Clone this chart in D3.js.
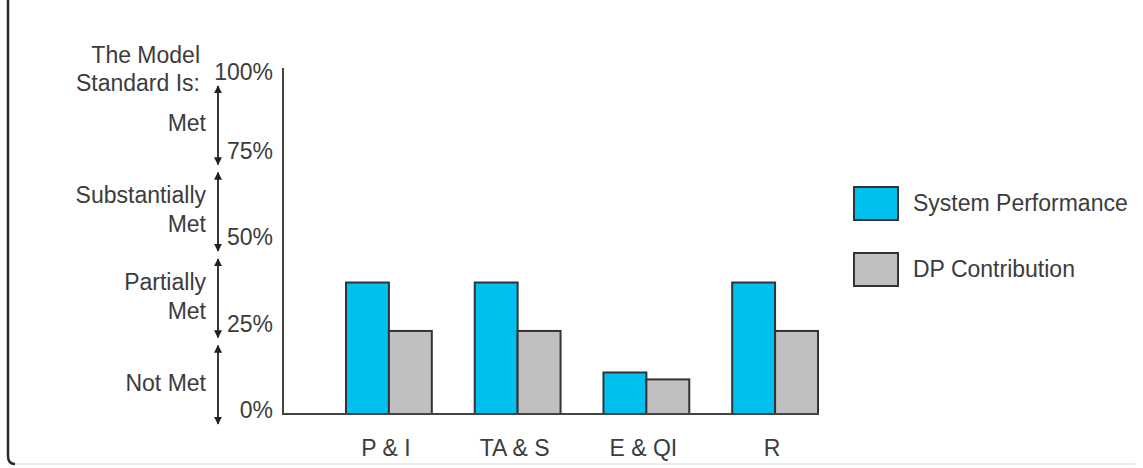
<!DOCTYPE html>
<html>
<head>
<meta charset="utf-8">
<script src="https://cdn.jsdelivr.net/npm/d3@7"></script>
<style>
  html, body { margin: 0; padding: 0; background: #ffffff; }
  svg { display: block; }
  text { font-family: "Liberation Sans", Arial, Helvetica, sans-serif; fill: #3c3c3c; }
</style>
</head>
<body>
<svg id="chart" width="1143" height="468"></svg>
<script>
// Chart data
const categories = ["P & I", "TA & S", "E & QI", "R"];
const seriesNames = ["System Performance", "DP Contribution"];
const systemPerformance = [38, 38, 12, 38];
const dpContribution = [24, 24, 10, 24];
const tickValues = [0, 25, 50, 75, 100];
const tickLabels = ["0%", "25%", "50%", "75%", "100%"];
const standardHeader = ["The Model", "Standard Is:"];
const standardBands = [
  { lo: 75, hi: 100, lines: ["Met"] },
  { lo: 50, hi: 75, lines: ["Substantially", "Met"] },
  { lo: 25, hi: 50, lines: ["Partially", "Met"] },
  { lo: 0, hi: 25, lines: ["Not Met"] }
];
const seriesColors = ["#00c0f0", "#c0c0c0"];

const svg = d3.select("#chart");
const FONT = 23;
const INK = "#333333";

// Outer frame: dark left edge with a rounded corner into a faint bottom edge
svg.append("path")
  .attr("d", "M1135,464 H15")
  .attr("fill", "none").attr("stroke", "#e6e6e6").attr("stroke-width", 1.5);
svg.append("path")
  .attr("d", "M8,0 V456 Q8,464 15,464")
  .attr("fill", "none").attr("stroke", "#2a2a2a").attr("stroke-width", 2.5);

// Scales
const y = d3.scaleLinear().domain([0, 100]).range([414, 68]);
const x = d3.scaleBand().domain(categories).range([346, 818]).paddingInner(1 / 3).paddingOuter(0);
const xs = d3.scaleBand().domain(seriesNames).range([0, x.bandwidth()]).padding(0);
const axisX = 283;

// Bars
const rows = categories.map((c, i) => ({ c, vals: [systemPerformance[i], dpContribution[i]] }));
const groups = svg.append("g").selectAll("g").data(rows).join("g")
  .attr("transform", d => `translate(${x(d.c)},0)`);
groups.selectAll("rect")
  .data(d => d.vals.map((v, j) => ({ v, s: seriesNames[j], j })))
  .join("rect")
  .attr("x", d => xs(d.s))
  .attr("y", d => y(d.v))
  .attr("width", xs.bandwidth())
  .attr("height", d => y(0) - y(d.v))
  .attr("fill", d => seriesColors[d.j])
  .attr("stroke", INK)
  .attr("stroke-width", 2);

// Axis lines
svg.append("line")
  .attr("x1", axisX).attr("x2", axisX).attr("y1", y(100)).attr("y2", y(0))
  .attr("stroke", "#444").attr("stroke-width", 2);
svg.append("line")
  .attr("x1", axisX - 1).attr("x2", x.range()[1] + 1).attr("y1", y(0)).attr("y2", y(0))
  .attr("stroke", "#444").attr("stroke-width", 2);

// Tick labels
svg.append("g").selectAll("text").data(tickValues).join("text")
  .attr("x", 273)
  .attr("y", v => y(v) + (v === 100 ? 12 : 4))
  .attr("text-anchor", "end")
  .attr("font-size", FONT)
  .text((v, i) => tickLabels[i]);

// Category labels
svg.append("g").selectAll("text").data(categories).join("text")
  .attr("x", c => x(c) + x.bandwidth() / 2 - 3)
  .attr("y", 456)
  .attr("text-anchor", "middle")
  .attr("font-size", FONT)
  .text(c => c);

// Header for the standard ranges
svg.append("g").selectAll("text").data(standardHeader).join("text")
  .attr("x", 200)
  .attr("y", (d, i) => 63 + i * 28)
  .attr("text-anchor", "end")
  .attr("font-size", FONT)
  .text(d => d);

// Double-headed arrows and range labels
const defs = svg.append("defs");
["start", "end"].forEach(k => {
  defs.append("marker")
    .attr("id", "arrow-" + k)
    .attr("viewBox", "0 0 10 10")
    .attr("refX", 9).attr("refY", 5)
    .attr("markerWidth", 8).attr("markerHeight", 8)
    .attr("markerUnits", "userSpaceOnUse")
    .attr("orient", k === "start" ? "auto-start-reverse" : "auto")
    .append("path").attr("d", "M0,0 L10,5 L0,10 Z").attr("fill", "#222");
});
const arrowX = 218;
const bandG = svg.append("g").selectAll("g").data(standardBands).join("g");
bandG.append("line")
  .attr("x1", arrowX).attr("x2", arrowX)
  .attr("y1", d => y(d.hi) + 18)
  .attr("y2", d => y(d.lo) + 10)
  .attr("stroke", "#222").attr("stroke-width", 1.8)
  .attr("marker-start", "url(#arrow-start)")
  .attr("marker-end", "url(#arrow-end)");
bandG.each(function (d) {
  const cy = (y(d.hi) + 18 + y(d.lo) + 10) / 2;
  const n = d.lines.length;
  const lh = 29;
  d3.select(this).selectAll("text").data(d.lines).join("text")
    .attr("x", 206)
    .attr("y", (t, i) => cy + 6 + (i - (n - 1) / 2) * lh)
    .attr("text-anchor", "end")
    .attr("font-size", FONT)
    .text(t => t);
});

// Legend
const legend = svg.append("g").selectAll("g").data(seriesNames).join("g")
  .attr("transform", (d, i) => `translate(854,${187 + i * 66})`);
legend.append("rect")
  .attr("width", 44).attr("height", 33)
  .attr("fill", (d, i) => seriesColors[i])
  .attr("stroke", INK).attr("stroke-width", 2);
legend.append("text")
  .attr("x", 59).attr("y", 24)
  .attr("font-size", FONT)
  .text(d => d);
</script>
</body>
</html>
